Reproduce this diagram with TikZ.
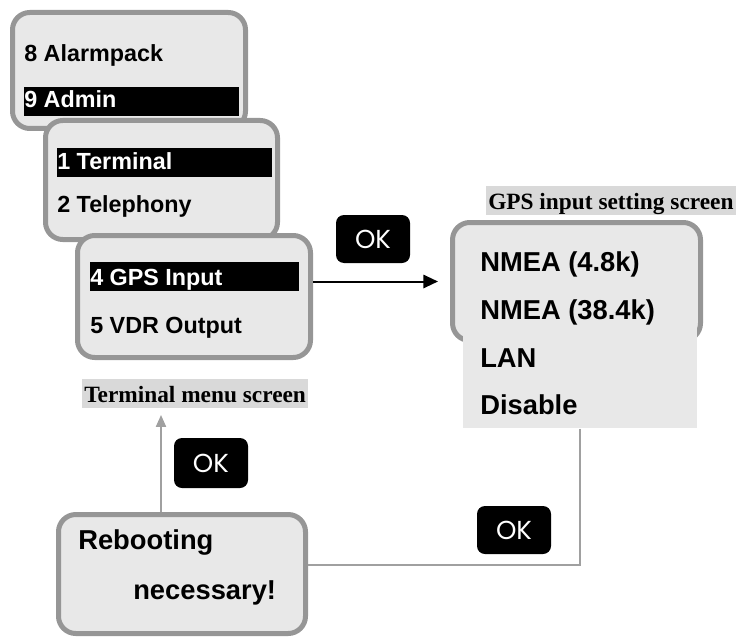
\documentclass[tikz,border=0pt]{standalone}
\usepackage{fontspec}
\newfontfamily\menufont{Liberation Sans}
\newfontfamily\capfont{Liberation Serif}
\newfontfamily\okfont{Poppins}
\usepackage{tikz}
\usetikzlibrary{positioning, arrows.meta, calc}
\definecolor{screenbg}{RGB}{232,232,232}
\definecolor{screenrim}{RGB}{150,150,150}
\definecolor{capbg}{RGB}{217,217,217}
\definecolor{flowgray}{RGB}{160,160,160}
\newlength{\pxu}
\setlength{\pxu}{0.75pt}

\begin{document}
\begin{tikzpicture}[x=0.75pt, y=-0.75pt,
    screen/.style={draw=screenrim, fill=screenbg, line width=5\pxu, rounded corners=13pt, anchor=north west, inner sep=0pt},
    selbar/.style={fill=black, anchor=north west, inner sep=0pt, minimum height=29\pxu},
    menutxt/.style={anchor=base west, inner sep=0pt, font=\menufont\bfseries\fontsize{17.5pt}{21pt}\selectfont},
    bigtxt/.style={anchor=base west, inner sep=0pt, font=\menufont\bfseries\fontsize{20.5pt}{24pt}\selectfont},
    caption/.style={fill=capbg, anchor=base west, inner xsep=2\pxu, inner ysep=3\pxu, text height=20\pxu, text depth=3\pxu, font=\capfont\bfseries\fontsize{17.5pt}{21pt}\selectfont},
    okbtn/.style={fill=black, rounded corners=6pt, text=white, minimum width=74\pxu, minimum height=48\pxu, inner sep=0pt, font=\okfont\fontsize{19.5pt}{22pt}\selectfont},
    flowline/.style={draw=flowgray, line width=2\pxu}]
    \useasboundingbox (0,0) rectangle (738,638);

    % Admin menu
    \node [screen, minimum width=233\pxu, minimum height=116\pxu] (admin) at (10,10) {};
    \node [menutxt] (alarm) at (24,62) {8 Alarmpack};
    \node [selbar, minimum width=215\pxu] (adminsel) at (24,87) {};
    \node [menutxt, text=white] (adm) at (24,108) {9 Admin};

    % Terminal menu, first page
    \node [screen, minimum width=232\pxu, minimum height=119\pxu] (term1) at (43,118) {};
    \node [selbar, minimum width=215\pxu] (termsel) at (57,148) {};
    \node [menutxt, text=white] (terminal) at (57,170) {1 Terminal};
    \node [menutxt] (tele) at (57,212) {2 Telephony};

    % Terminal menu, second page
    \node [screen, minimum width=233\pxu, minimum height=122\pxu] (term2) at (75,233) {};
    \node [selbar, minimum width=209\pxu] (gpssel) at (90,262) {};
    \node [menutxt, text=white] (gpsin) at (90,285) {4 GPS Input};
    \node [menutxt] (vdr) at (90,333) {5 VDR Output};
    \node [caption] (termcap) at (82,402) {Terminal menu screen};

    % GPS input setting screen
    \node [caption] (gpscap) at (486,209) {GPS input setting screen};
    \node [screen, minimum width=248\pxu, minimum height=118\pxu] (gps) at (450,220) {};
    \node [fill=screenbg, anchor=north west, inner sep=0pt, minimum width=234\pxu, minimum height=128\pxu] (gpslist) at (463,300) {};
    \node [bigtxt] (nmea1) at (480,271) {NMEA (4.8k)};
    \node [bigtxt] (nmea2) at (480,319) {NMEA (38.4k)};
    \node [bigtxt] (lan) at (480,367) {LAN};
    \node [bigtxt] (disable) at (480,414) {Disable};

    % Reboot message
    \node [screen, minimum width=247\pxu, minimum height=119\pxu] (reboot) at (56,512) {};
    \node [bigtxt] (reb1) at (78,549) {Rebooting};
    \node [bigtxt] (reb2) at (133,599) {necessary!};

    % OK keys
    \node [okbtn] (okgps) at (373,239) {OK\hspace{10\pxu}};
    \node [okbtn, minimum height=50\pxu] (okback) at (211,463) {OK\hspace{10\pxu}};
    \node [okbtn] (okset) at (514,530) {OK\hspace{10\pxu}};

    % Flow
    \draw [line width=2\pxu, -{Triangle[length=11pt, width=10pt]}, shorten >=9pt] (term2.east |- gps.west) -- (gps.west);
    \draw [flowline] (gpslist.south) |- ([yshift=9\pxu]reboot.east);
    \draw [flowline, -{Triangle[length=9pt, width=7.5pt]}, shorten >=5pt] ([xshift=-21\pxu]reboot.north) -- ([xshift=-21\pxu]reboot.north |- termcap.south);
\end{tikzpicture}
\end{document}
